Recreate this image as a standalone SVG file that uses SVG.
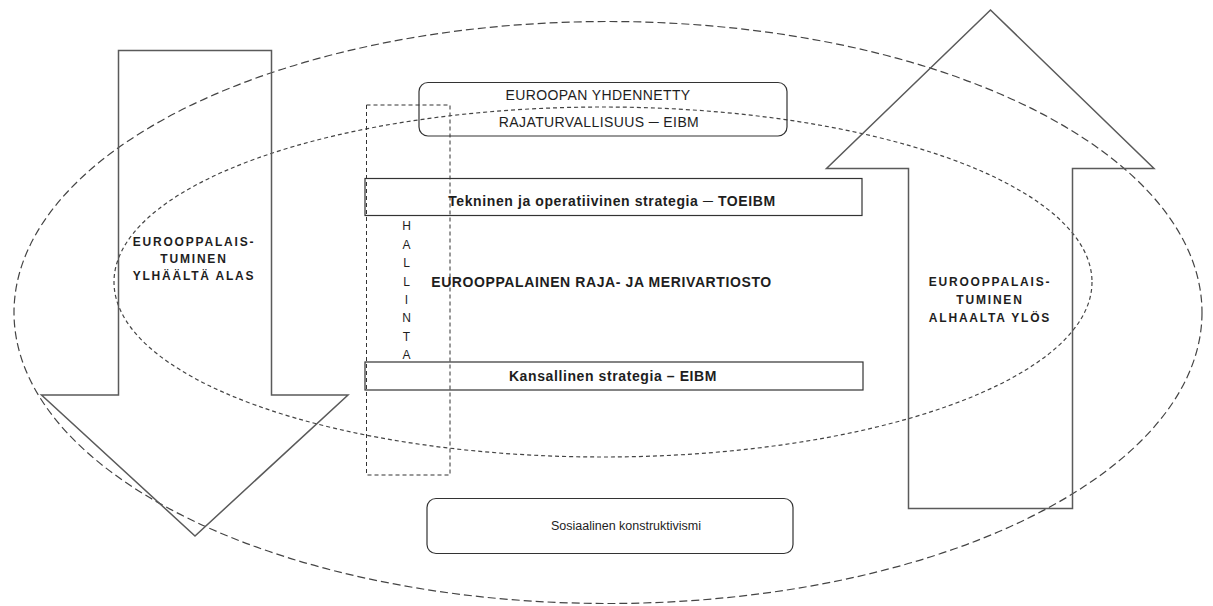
<svg xmlns="http://www.w3.org/2000/svg" width="1213" height="606" viewBox="0 0 1213 606">
<style>
.arrow{fill:none;stroke:#5a5a5a;stroke-width:1.5}
.box{fill:none;stroke:#333;stroke-width:1.2}
.outer{fill:none;stroke:#444;stroke-width:1.2;stroke-dasharray:8 4}
.inner{fill:none;stroke:#444;stroke-width:1.2;stroke-dasharray:4 3}
.hal{fill:none;stroke:#333;stroke-width:1;stroke-dasharray:4 3}
text{font-family:"Liberation Sans",Arial,sans-serif;fill:#1e1e1e;text-anchor:middle}
.b{font-weight:bold;font-size:14px;letter-spacing:0.6px}
.r{font-size:14px;letter-spacing:0.4px}
.s{font-size:12px}
.so{font-size:12.5px}
.arr{font-weight:bold;font-size:12px;letter-spacing:1.8px}
</style>
<rect width="1213" height="606" fill="#fff"/>
<g id="connectors"></g>
<g id="outer-ellipse"><ellipse class="outer" cx="608" cy="312.5" rx="594" ry="291"/></g>
<g id="inner-ellipse"><ellipse class="inner" cx="603" cy="282" rx="489" ry="175"/></g>
<g id="arrow-down">
<polygon class="arrow" points="118.5,50.5 271.5,50.5 271.5,395 348,395 195,536 41.5,395 118.5,395"/>
<text class="arr" x="194" y="246">EUROOPPALAIS-</text>
<text class="arr" x="194" y="263">TUMINEN</text>
<text class="arr" x="194" y="280" xml:space="preserve">YLHÄÄLTÄ ALAS</text>
</g>
<g id="arrow-up">
<polygon class="arrow" points="990.5,10 1154,168.5 1072.5,168.5 1072.5,508.5 908.5,508.5 908.5,168.5 826.5,168.5"/>
<text class="arr" x="990" y="286">EUROOPPALAIS-</text>
<text class="arr" x="990" y="304">TUMINEN</text>
<text class="arr" x="990" y="322">ALHAALTA YLÖS</text>
</g>
<g id="eibm">
<rect class="box" x="419" y="82.5" width="368" height="53.5" rx="9"/>
<text class="r" x="598" y="100">EUROOPAN YHDENNETTY</text>
<text class="r" x="599" y="126.5">RAJATURVALLISUUS ─ EIBM</text>
</g>
<g id="hallinta">
<rect class="hal" x="366.5" y="105" width="83.5" height="370"/>
<text class="s" x="406.5" y="229.5">H</text>
<text class="s" x="406.5" y="249">A</text>
<text class="s" x="406.5" y="267">L</text>
<text class="s" x="406.5" y="285.5">L</text>
<text class="s" x="406.5" y="304">I</text>
<text class="s" x="406.5" y="322">N</text>
<text class="s" x="406.5" y="340.5">T</text>
<text class="s" x="406.5" y="359">A</text>
</g>
<g id="toeibm">
<rect class="box" x="365" y="178.5" width="497" height="37"/>
<text class="b" x="612" y="206">Tekninen ja operatiivinen strategia ─ TOEIBM</text>
</g>
<g id="frontex">
<text class="b" x="601.5" y="287">EUROOPPALAINEN RAJA- JA MERIVARTIOSTO</text>
</g>
<g id="kansallinen">
<rect class="box" x="365" y="362" width="498" height="28"/>
<text class="b" x="613" y="381">Kansallinen strategia – EIBM</text>
</g>
<g id="sosiaalinen">
<rect class="box" x="427" y="498.5" width="366" height="55" rx="9"/>
<text class="so" x="626" y="530">Sosiaalinen konstruktivismi</text>
</g>
</svg>
